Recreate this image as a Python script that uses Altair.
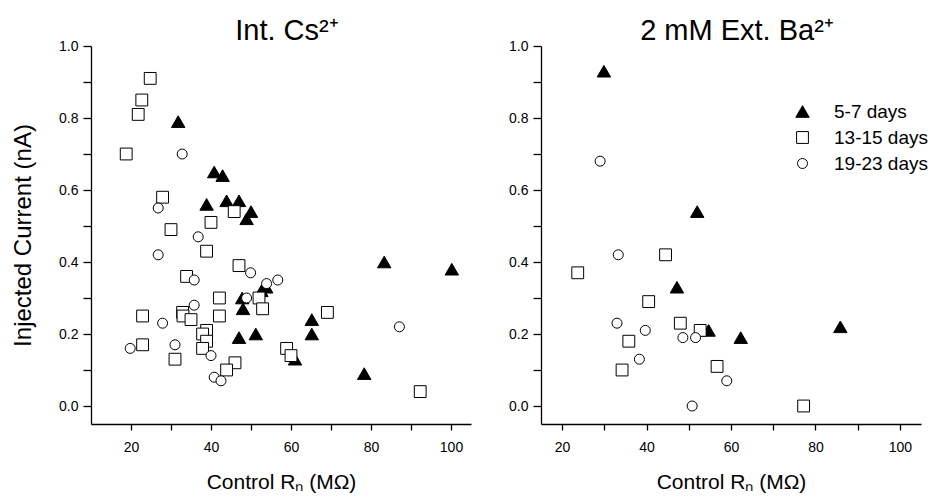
import altair as alt
import pandas as pd

groups = ["5-7 days", "13-15 days", "19-23 days"]

# Panel 1: Int. Cs2+
cs_tri_x = [31.8, 40.8, 42.9, 38.9, 43.9, 47.0, 50.0, 48.9, 52.6, 53.8, 47.8, 48.0, 47.0, 51.2, 65.2, 65.2, 61.0, 78.3, 83.3, 100.2]
cs_tri_y = [0.79, 0.65, 0.64, 0.56, 0.57, 0.57, 0.54, 0.52, 0.32, 0.33, 0.30, 0.27, 0.19, 0.20, 0.24, 0.20, 0.13, 0.09, 0.40, 0.38]
cs_sq_x = [24.8, 22.7, 21.8, 18.8, 27.9, 45.8, 40.0, 30.0, 38.9, 47.0, 33.9, 42.1, 52.0, 52.9, 32.9, 33.0, 35.0, 42.1, 22.9, 38.9, 37.9, 38.9, 22.9, 37.9, 31.0, 46.0, 43.9, 69.1, 58.9, 60.0, 92.3]
cs_sq_y = [0.91, 0.85, 0.81, 0.70, 0.58, 0.54, 0.51, 0.49, 0.43, 0.39, 0.36, 0.30, 0.30, 0.27, 0.26, 0.25, 0.24, 0.25, 0.25, 0.21, 0.20, 0.18, 0.17, 0.16, 0.13, 0.12, 0.10, 0.26, 0.16, 0.14, 0.04]
cs_ci_x = [32.8, 26.8, 36.8, 26.8, 49.9, 35.8, 53.9, 56.7, 48.9, 35.8, 27.9, 19.8, 31.0, 40.0, 40.8, 42.5, 87.1]
cs_ci_y = [0.70, 0.55, 0.47, 0.42, 0.37, 0.35, 0.34, 0.35, 0.30, 0.28, 0.23, 0.16, 0.17, 0.14, 0.08, 0.07, 0.22]

# Panel 2: 2 mM Ext. Ba2+
ba_tri_x = [29.9, 52.0, 47.2, 54.7, 62.3, 85.9]
ba_tri_y = [0.93, 0.54, 0.33, 0.21, 0.19, 0.22]
ba_sq_x = [23.7, 44.5, 40.5, 48.0, 52.7, 35.8, 34.2, 56.7, 77.2]
ba_sq_y = [0.37, 0.42, 0.29, 0.23, 0.21, 0.18, 0.10, 0.11, 0.00]
ba_ci_x = [29.0, 33.3, 33.0, 39.7, 48.6, 51.6, 38.3, 59.0, 50.8]
ba_ci_y = [0.68, 0.42, 0.23, 0.21, 0.19, 0.19, 0.13, 0.07, 0.00]

titles = ["Int. Cs\u00b2\u207a", "2 mM Ext. Ba\u00b2\u207a"]
x_title = "Control R\u2099 (M\u03a9)"
y_title = "Injected Current (nA)"
x_ticks = [20, 30, 40, 50, 60, 70, 80, 90, 100]
y_ticks = [0.0, 0.1, 0.2, 0.3, 0.4, 0.5, 0.6, 0.7, 0.8, 0.9, 1.0]

FONT = "Liberation Sans"


def frame(series):
    rows = []
    for g, xs, ys in series:
        for a, b in zip(xs, ys):
            rows.append({"rn": a, "current": b, "group": g})
    return pd.DataFrame(rows)


df_cs = frame([(groups[0], cs_tri_x, cs_tri_y), (groups[1], cs_sq_x, cs_sq_y), (groups[2], cs_ci_x, cs_ci_y)])
df_ba = frame([(groups[0], ba_tri_x, ba_tri_y), (groups[1], ba_sq_x, ba_sq_y), (groups[2], ba_ci_x, ba_ci_y)])

Y_LABELS = "round(datum.value * 10) % 2 == 0 ? format(datum.value, '.1f') : ''"


def panel(df, title, xdom, with_y_title, legend):
    x_axis = alt.Axis(
        values=x_ticks,
        labelExpr="datum.value % 20 == 0 ? datum.label : ''",
        title=x_title,
        titleFontSize=21,
        titleFontWeight="normal",
        titlePadding=17,
        labelFontSize=14,
        labelPadding=10,
        tickSize=6,
        grid=False,
    )
    if with_y_title:
        y_axis = alt.Axis(
            values=y_ticks,
            labelExpr=Y_LABELS,
            title=y_title,
            titleFontSize=24,
            titleFontWeight="normal",
            titlePadding=23,
            labelFontSize=14,
            labelPadding=5,
            tickSize=8,
            grid=False,
        )
    else:
        y_axis = alt.Axis(
            values=y_ticks,
            labelExpr=Y_LABELS,
            title=None,
            labelFontSize=14,
            labelPadding=5,
            tickSize=8,
            grid=False,
        )
    return (
        alt.Chart(df, title=alt.Title(title, fontSize=29, fontWeight="normal", font=FONT, offset=0, dx=6, dy=7))
        .mark_point(stroke="black", strokeWidth=1, opacity=1, fillOpacity=1, filled=True)
        .encode(
            x=alt.X("rn:Q", scale=alt.Scale(domain=xdom, nice=False, zero=False), axis=x_axis),
            y=alt.Y("current:Q", scale=alt.Scale(domain=[-0.05, 1.0], nice=False, zero=False), axis=y_axis),
            shape=alt.Shape("group:N", scale=alt.Scale(domain=groups, range=["triangle-up", "square", "circle"]), legend=legend),
            fill=alt.Fill("group:N", scale=alt.Scale(domain=groups, range=["black", "white", "white"]), legend=legend),
            stroke=alt.Stroke("group:N", scale=alt.Scale(domain=groups, range=["black", "black", "black"]), legend=legend),
            size=alt.Size("group:O", scale=alt.Scale(domain=groups, range=[180, 100, 100]), legend=legend),
        )
        .properties(width=380, height=378)
    )


leg = alt.Legend(
    orient="none",
    legendX=252,
    legendY=56,
    title=None,
    labelFontSize=19,
    labelFont=FONT,
    labelColor="black",
    labelOffset=22,
    rowPadding=6,
    padding=0,
    symbolStrokeColor="black",
    symbolStrokeWidth=1,
)

left = panel(df_cs, titles[0], [10, 105], True, None)
right = panel(df_ba, titles[1], [15, 105], False, leg)

chart = (
    alt.hconcat(left, right, spacing=70, bounds="flush")
    .resolve_scale(shape="independent", fill="independent", size="independent", stroke="independent")
    .properties(
        autosize=alt.AutoSizeParams(type="none"),
        padding={"left": 91, "top": 46, "right": 839, "bottom": 456},
        background="white",
    )
    .configure_view(stroke=None)
    .configure_axis(
        labelFont=FONT,
        titleFont=FONT,
        labelColor="black",
        titleColor="black",
        domainColor="black",
        tickColor="black",
        domainWidth=1.3,
        tickWidth=1.3,
    )
)

chart.save("out.html", embed_options={"renderer": "svg", "actions": False})
